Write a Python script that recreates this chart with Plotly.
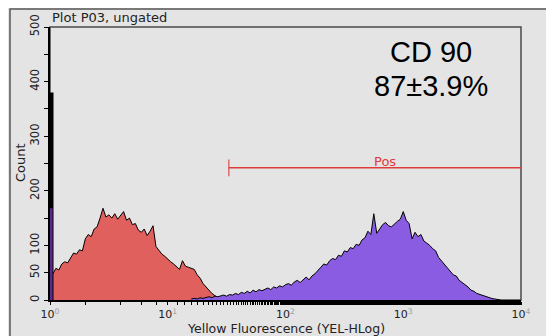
import plotly.graph_objects as go

# ---------------- data ----------------
bin_width_log = 0.025            # histogram bin width in decades
red_start_log = 0.0
red_counts = [42, 48, 58, 55, 66, 70, 68, 78, 86, 84,
              92, 90, 112, 120, 116, 130, 134, 150, 168, 152,
              156, 150, 158, 148, 154, 162, 146, 150, 138, 140,
              128, 124, 130, 118, 126, 136, 98, 90, 84, 80,
              74, 70, 66, 60, 56, 72, 62, 60, 58, 56,
              46, 40, 30, 24, 16, 12, 8, 5, 4, 2, 0]
purple_start_log = 1.2
purple_counts = [2, 3, 2, 4, 3, 5, 6, 4, 7, 6,
                 8, 9, 7, 10, 9, 12, 10, 14, 12, 16,
                 13, 18, 15, 19, 17, 20, 22, 19, 24, 22,
                 26, 24, 28, 30, 27, 33, 36, 32, 38, 42,
                 37, 44, 48, 55, 60, 66, 64, 72, 76, 74,
                 82, 80, 90, 88, 96, 94, 102, 100, 110, 114,
                 126, 120, 158, 122, 130, 138, 142, 136, 134, 140,
                 144, 148, 162, 146, 140, 112, 124, 116, 120, 108,
                 104, 100, 94, 90, 78, 72, 66, 58, 54, 46,
                 44, 36, 32, 28, 24, 18, 16, 12, 10, 8,
                 6, 5, 3, 2, 1, 0]
# off-scale events piled in the first channel
red_edge_count = 380
purple_edge_count = 168

gate_low = 33          # Pos gate lower bound (fluorescence)
gate_high = 10000      # Pos gate upper bound
gate_level = 242       # drawn height of the gate marker (count)
gate_label = "Pos"

y_ticks = [0, 50, 100, 200, 300, 400, 500]
y_minor_ticks = [150, 250, 350, 450]
x_tick_vals = [1, 10, 100, 1000, 10000]
x_tick_exps = ["0", "1", "2", "3", "4"]

title_text = "Plot P03, ungated"
x_title = "Yellow Fluorescence (YEL-HLog)"
y_title = "Count"
marker_name = "CD 90"
marker_pct = "87±3.9%"

# ---------------- figure ----------------
def centers(start, n):
    return [10 ** (start + i * bin_width_log) for i in range(n)]

RED = "#e0605e"
PURPLE = "#8a5ce2"
BG = "#e4e4e4"
OFF = 8                      # page body margin
W, H = 554, 336
L, T = 50 - OFF, 27 - OFF
R = W - (521 - OFF)
B = H - (300 - OFF)
PW, PH = W - L - R, H - T - B

def px(x):  # page pixel -> paper x
    return (x - OFF - L) / PW

def py(y):  # page pixel -> paper y
    return (H - B - (y - OFF)) / PH

fig = go.Figure()
fig.add_trace(go.Scatter(x=centers(red_start_log, len(red_counts)), y=red_counts,
                         mode="lines", line=dict(color="black", width=1),
                         fill="tozeroy", fillcolor=RED, hoverinfo="skip"))
fig.add_trace(go.Scatter(x=centers(purple_start_log, len(purple_counts)), y=purple_counts,
                         mode="lines", line=dict(color="black", width=1),
                         fill="tozeroy", fillcolor=PURPLE, hoverinfo="skip"))
fig.add_trace(go.Scatter(x=[1, 1], y=[0, red_edge_count], mode="lines",
                         line=dict(color="black", width=7), hoverinfo="skip"))
fig.add_trace(go.Scatter(x=[1, 1], y=[0, purple_edge_count], mode="lines",
                         line=dict(color="#5a2a8a", width=5), hoverinfo="skip"))
# gate
fig.add_trace(go.Scatter(x=[gate_low, gate_high], y=[gate_level, gate_level], mode="lines+markers",
                         line=dict(color="#e03a3a", width=1.5),
                         marker=dict(symbol=["line-ns", "line-ns"], size=[12, 0],
                                     line=dict(color="#e03a3a", width=1.5)),
                         cliponaxis=False, hoverinfo="skip"))

tick_text = ['10<sup><span style="color:#a0a0a0">%s</span></sup>' % e for e in x_tick_exps]

fig.update_layout(
    width=W, height=H,
    margin=dict(l=L, r=R, t=T, b=B, autoexpand=False),
    paper_bgcolor=BG, plot_bgcolor=BG,
    showlegend=False,
    font=dict(family="DejaVu Sans", size=11, color="#222"),
    xaxis=dict(type="log", range=[0, 4], tickvals=x_tick_vals, ticktext=tick_text,
               ticks="outside", ticklen=3, tickcolor="black", tickwidth=1,
               minor=dict(ticks="outside", ticklen=3, tickcolor="black", showgrid=False),
               showgrid=False, zeroline=False, showline=True, linecolor="black", linewidth=2,
               tickfont=dict(size=11, color="#222"), automargin=False),
    yaxis=dict(range=[0, 500], tickvals=y_ticks, tickangle=-90,
               ticks="outside", ticklen=4, tickcolor="black",
               minor=dict(tickvals=y_minor_ticks, ticks="outside", ticklen=4, tickcolor="black",
                          showgrid=False),
               showgrid=False, zeroline=False, showline=True, linecolor="black", linewidth=2,
               tickfont=dict(size=11.5, color="#222"), automargin=False),
    shapes=[
        dict(type="rect", xref="paper", yref="paper", x0=0, x1=1, y0=0, y1=1,
             line=dict(color="#4a4a4a", width=1.5), layer="below"),
        dict(type="rect", xref="paper", yref="paper", x0=px(10), x1=px(600), y0=py(400), y1=py(9),
             line=dict(color="#555", width=1.5), layer="below"),
    ],
    annotations=[
        dict(text=title_text, xref="paper", yref="paper", x=0, y=py(18), xanchor="left", yanchor="middle",
             showarrow=False, font=dict(size=13, color="#222")),
        dict(text=x_title, xref="paper", yref="paper", x=0.5, y=py(328.5), xanchor="center", yanchor="middle",
             showarrow=False, font=dict(size=12.5, color="#222")),
        dict(text=y_title, xref="paper", yref="paper", x=px(20), y=py(163), xanchor="center", yanchor="middle",
             textangle=-90, showarrow=False, font=dict(size=13, color="#222")),
        dict(text=gate_label, x=2.845, y=gate_level, xref="x", yref="y", yanchor="bottom",
             showarrow=False, font=dict(size=13, color="#e03a3a"), yshift=-3),
        dict(text=marker_name, xref="paper", yref="paper", x=px(431), y=py(52),
             xanchor="center", yanchor="middle", showarrow=False,
             font=dict(family="Liberation Sans", size=29, color="black")),
        dict(text=marker_pct, xref="paper", yref="paper", x=px(431), y=py(86),
             xanchor="center", yanchor="middle", showarrow=False,
             font=dict(family="Liberation Sans", size=29, color="black")),
    ],
)

fig.write_html("out.html")
